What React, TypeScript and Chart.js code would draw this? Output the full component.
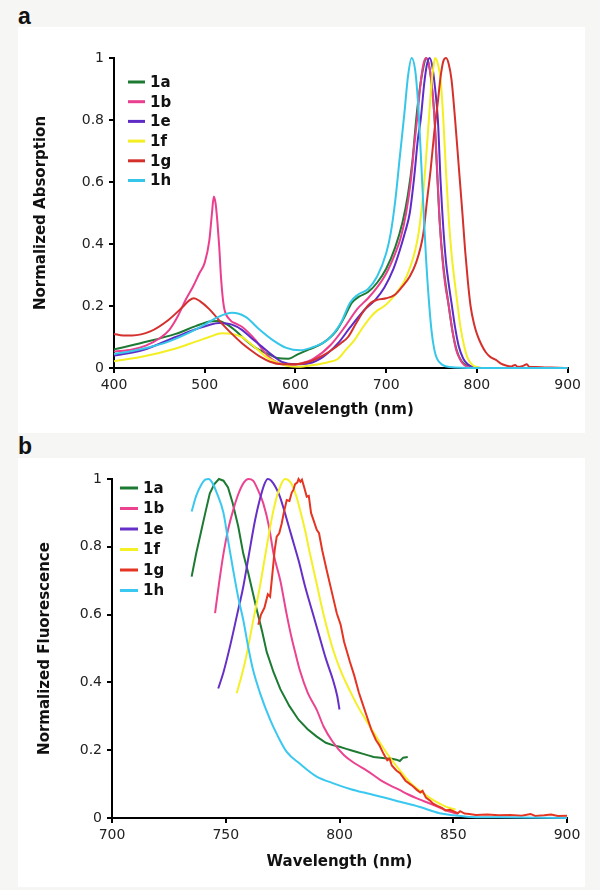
import React, { useEffect, useRef } from 'react';
import { Chart, registerables } from 'chart.js';

Chart.register(...registerables);

// ---------- series names & colours ----------
const seriesNames = ['1a', '1b', '1e', '1f', '1g', '1h'];
const absColors = ['#1d7a33', '#ea3f8e', '#5e2bc6', '#f3ef22', '#d4312d', '#36c6ea'];
const fluColors = ['#1d7a33', '#ec4391', '#6630c8', '#f4f026', '#e53522', '#3ac8f0'];

// ---------- tick settings ----------
const absXTicks = [400, 900, 100];
const fluXTicks = [700, 900, 50];
const yTicks = [0, 1, 0.2];

// ---------- panel a: normalized absorption ----------
const abs1aWl = [400, 432, 468, 490, 505, 515, 525, 535, 545, 556, 570, 580, 592, 603, 615, 630, 645, 655, 662, 670, 680, 690, 700, 710, 718, 724, 729, 733, 737, 741, 744, 747, 750, 753, 756, 759, 763, 768, 773, 778, 783, 790, 800, 900];
const abs1a = [0.06, 0.082, 0.11, 0.135, 0.15, 0.152, 0.14, 0.118, 0.09, 0.065, 0.045, 0.032, 0.03, 0.045, 0.06, 0.08, 0.12, 0.17, 0.21, 0.23, 0.245, 0.275, 0.32, 0.39, 0.47, 0.56, 0.67, 0.8, 0.9, 0.97, 1.0, 0.98, 0.92, 0.82, 0.64, 0.47, 0.33, 0.22, 0.12, 0.055, 0.022, 0.007, 0.0, 0.0];

const abs1bWl = [400, 420, 435, 450, 461, 470, 479, 487, 494, 500, 505, 508, 510, 512, 514, 516, 518, 521, 527, 535, 541, 548, 556, 563, 570, 580, 592, 605, 620, 639, 655, 668, 680, 690, 700, 710, 716, 722, 727, 731, 734, 738, 741, 744, 747, 750, 753, 756, 759, 762, 765, 769, 773, 777, 781, 786, 792, 800, 900];
const abs1b = [0.053, 0.06, 0.072, 0.095, 0.123, 0.165, 0.22, 0.262, 0.305, 0.34, 0.41, 0.5, 0.553, 0.53, 0.47, 0.39, 0.29, 0.2, 0.158, 0.142, 0.133, 0.115, 0.09, 0.062, 0.038, 0.018, 0.01, 0.014, 0.03, 0.075, 0.135, 0.19, 0.225, 0.26, 0.305, 0.37, 0.42, 0.5, 0.6, 0.72, 0.8, 0.92, 0.98, 1.0, 0.98, 0.92, 0.82, 0.65, 0.47, 0.35, 0.27, 0.2, 0.12, 0.06, 0.03, 0.01, 0.003, 0.0, 0.0];

const abs1eWl = [400, 432, 468, 490, 505, 516, 530, 541, 552, 563, 575, 585, 600, 615, 630, 647, 660, 676, 688, 698, 708, 715, 721, 726, 731, 735, 738, 742, 745, 748, 751, 754, 757, 760, 763, 766, 769, 772, 776, 780, 785, 790, 796, 805, 900];
const abs1e = [0.04, 0.058, 0.1, 0.125, 0.139, 0.145, 0.14, 0.123, 0.095, 0.069, 0.04, 0.02, 0.012, 0.015, 0.035, 0.08, 0.13, 0.187, 0.22, 0.26, 0.32, 0.38, 0.44, 0.5, 0.62, 0.74, 0.8, 0.92, 0.98, 1.0, 0.97, 0.9, 0.8, 0.6, 0.45, 0.34, 0.27, 0.21, 0.13, 0.07, 0.03, 0.012, 0.003, 0.0, 0.0];

const abs1fWl = [400, 432, 468, 490, 505, 519, 530, 541, 550, 559, 568, 578, 592, 603, 620, 635, 647, 656, 665, 674, 683, 690, 698, 705, 712, 720, 727, 732, 736, 740, 743, 747, 750, 752, 754, 757, 760, 763, 766, 769, 772, 775, 778, 782, 786, 790, 795, 802, 810, 900];
const abs1f = [0.022, 0.037, 0.063, 0.085, 0.1, 0.112, 0.11, 0.1, 0.08, 0.058, 0.035, 0.02, 0.006, 0.004, 0.01, 0.018, 0.03, 0.06, 0.09, 0.13, 0.165, 0.185, 0.2, 0.22, 0.245, 0.28, 0.33, 0.38, 0.44, 0.54, 0.64, 0.8, 0.92, 0.97, 1.0, 0.98, 0.93, 0.8, 0.63, 0.48, 0.37, 0.29, 0.22, 0.13, 0.07, 0.03, 0.01, 0.002, 0.0, 0.0];

const abs1gWl = [400, 410, 420, 440, 460, 475, 483, 488, 495, 505, 520, 530, 541, 552, 562, 572, 585, 600, 615, 630, 640, 650, 658, 667, 676, 683, 690, 700, 709, 717, 726, 733, 738, 741, 745, 749, 753, 757, 760, 763, 766, 769, 772, 776, 780, 784, 787, 790, 793, 797, 800, 805, 810, 815, 821, 826, 832, 838, 842, 845, 850, 855, 858, 865, 875, 890, 900];
const abs1g = [0.11, 0.105, 0.105, 0.118, 0.155, 0.195, 0.218, 0.225, 0.215, 0.19, 0.14, 0.11, 0.08, 0.055, 0.035, 0.02, 0.012, 0.012, 0.02, 0.04, 0.058, 0.08, 0.1, 0.145, 0.187, 0.21, 0.22, 0.225, 0.235, 0.26, 0.295, 0.34, 0.39, 0.435, 0.54, 0.64, 0.76, 0.86, 0.94, 0.99, 1.0, 0.98, 0.93, 0.8, 0.65, 0.5, 0.38, 0.28, 0.2, 0.14, 0.11, 0.075, 0.05, 0.035, 0.026, 0.015, 0.008, 0.005, 0.01, 0.004, 0.006, 0.012, 0.003, 0.003, 0.002, 0.001, 0.0];

const abs1hWl = [400, 420, 440, 460, 480, 500, 515, 530, 545, 560, 575, 590, 605, 620, 635, 650, 660, 668, 680, 690, 700, 705, 710, 715, 720, 724, 728, 732, 735, 738, 741, 744, 747, 750, 753, 756, 762, 770, 800, 900];
const abs1h = [0.045, 0.055, 0.068, 0.085, 0.11, 0.14, 0.165, 0.178, 0.165, 0.125, 0.09, 0.065, 0.057, 0.068, 0.09, 0.145, 0.21, 0.235, 0.255, 0.295, 0.37, 0.435, 0.54, 0.68, 0.82, 0.94, 1.0, 0.96, 0.86, 0.7, 0.52, 0.35, 0.22, 0.12, 0.06, 0.03, 0.01, 0.003, 0.0, 0.0];

// ---------- panel b: normalized fluorescence ----------
const flu1aWl = [735, 737, 739, 741, 743, 745, 747, 749, 751, 753, 755.5, 757.7, 760, 763.6, 766, 768, 771, 774, 778, 782, 786, 790, 794, 797, 800, 803, 805, 808, 810, 813, 815, 818, 820, 823, 825, 826.5, 828, 830];
const flu1a = [0.712, 0.78, 0.84, 0.9, 0.958, 0.985, 1.0, 0.995, 0.975, 0.93, 0.86, 0.78, 0.72, 0.615, 0.55, 0.49, 0.43, 0.38, 0.33, 0.29, 0.262, 0.24, 0.222, 0.215, 0.21, 0.204, 0.2, 0.194, 0.19, 0.184, 0.18, 0.178, 0.176, 0.175, 0.172, 0.168, 0.178, 0.18];

const flu1bWl = [745.3, 747, 749, 751, 753.3, 755.5, 758, 760, 762, 764, 766.5, 769, 771, 774, 776.8, 779, 781, 782.6, 786, 790, 793, 797, 802, 807, 812, 818, 822, 826.6, 830, 834, 840, 845, 848, 852];
const flu1b = [0.604, 0.69, 0.78, 0.85, 0.909, 0.955, 0.99, 1.0, 0.995, 0.97, 0.928, 0.86, 0.78, 0.7, 0.6, 0.53, 0.476, 0.435, 0.37, 0.319, 0.27, 0.225, 0.185, 0.16, 0.14, 0.112, 0.097, 0.082, 0.07, 0.058, 0.042, 0.028, 0.02, 0.012];

const flu1eWl = [746.7, 749, 752, 755, 757.7, 760, 762.9, 765, 767, 768.5, 770, 772, 773.8, 776, 779, 782, 785, 788, 791, 794, 797, 799, 800];
const flu1e = [0.382, 0.43, 0.51, 0.6, 0.682, 0.77, 0.879, 0.94, 0.985, 1.0, 0.995, 0.975, 0.948, 0.9, 0.83, 0.76, 0.68, 0.61, 0.54, 0.47, 0.41, 0.36, 0.32];

const flu1fWl = [754.8, 757, 759, 762, 765, 768, 771, 773.5, 776, 778.5, 781, 783, 785, 787, 790, 793, 797, 800.5, 804.6, 808, 812, 818, 822, 826.6, 831, 836.8, 842, 847, 851];
const flu1f = [0.368, 0.42, 0.476, 0.58, 0.682, 0.8, 0.909, 0.97, 1.0, 0.99, 0.95, 0.9, 0.845, 0.78, 0.69, 0.6, 0.5, 0.435, 0.375, 0.33, 0.285, 0.22, 0.18, 0.14, 0.105, 0.073, 0.05, 0.033, 0.025];

const flu1gWl = [764.3, 765.5, 767, 768.5, 769.5, 770.5, 771.5, 772.4, 773.5, 774.6, 775.5, 776.8, 778, 779, 779.7, 780.5, 781.5, 782, 782.8, 783.5, 784.5, 785.6, 786.5, 787.5, 788.5, 790, 791, 792.4, 794.4, 796.5, 798.8, 800.5, 802, 804.6, 806.5, 808.5, 810.5, 812, 814, 816, 817.5, 819.3, 821, 822, 823, 825, 826.6, 829, 831, 832, 834, 835.5, 836.5, 838, 840, 841, 843, 845, 846.5, 848.6, 850, 852, 853, 855, 857, 860, 865, 870, 875, 880, 884, 886, 890, 893, 896, 900];
const flu1g = [0.57, 0.6, 0.62, 0.66, 0.653, 0.72, 0.79, 0.83, 0.84, 0.869, 0.9, 0.938, 0.935, 0.96, 0.967, 0.985, 0.99, 1.0, 0.992, 0.998, 0.975, 0.948, 0.95, 0.9, 0.88, 0.85, 0.84, 0.79, 0.73, 0.67, 0.604, 0.57, 0.52, 0.46, 0.42, 0.37, 0.33, 0.3, 0.26, 0.23, 0.215, 0.19, 0.17, 0.175, 0.155, 0.14, 0.132, 0.11, 0.1, 0.095, 0.083, 0.075, 0.08, 0.06, 0.05, 0.043, 0.036, 0.03, 0.022, 0.024, 0.02, 0.014, 0.02, 0.013, 0.012, 0.009, 0.01, 0.008, 0.009, 0.007, 0.012, 0.006, 0.008, 0.01, 0.006, 0.007];

const flu1hWl = [735, 737, 739, 741, 742.5, 744, 746, 749, 751, 753.3, 755.5, 757.7, 760, 762, 765, 769.5, 773, 776.8, 782.6, 790, 797, 805, 812, 820, 826.6, 835, 844, 850, 856, 870, 900];
const flu1h = [0.904, 0.95, 0.98, 0.998, 1.0, 0.99, 0.96, 0.9, 0.82, 0.73, 0.65, 0.584, 0.5, 0.437, 0.37, 0.29, 0.24, 0.195, 0.16, 0.122, 0.103, 0.085, 0.073, 0.06, 0.048, 0.033, 0.014, 0.008, 0.004, 0.002, 0.0];

const absWl = [abs1aWl, abs1bWl, abs1eWl, abs1fWl, abs1gWl, abs1hWl];
const absVal = [abs1a, abs1b, abs1e, abs1f, abs1g, abs1h];
const fluWl = [flu1aWl, flu1bWl, flu1eWl, flu1fWl, flu1gWl, flu1hWl];
const fluVal = [flu1a, flu1b, flu1e, flu1f, flu1g, flu1h];

const TICK_FONT = { family: '"DejaVu Sans", Verdana, sans-serif', size: 14 };
const TITLE_FONT = { family: '"DejaVu Sans", Verdana, sans-serif', size: 15, weight: 'bold' as const };

type PanelProps = {
  width: number;
  height: number;
  area: { left: number; right: number; top: number; bottom: number };
  wls: number[][];
  vals: number[][];
  colors: string[];
  noisy: boolean[];
  xTicks: number[];
  yTitle: string;
  yTitlePad: number;
  xTitlePad: number;
  legend: { left: number; top: number; gap: number; len: number };
};

function Panel(p: PanelProps) {
  const ref = useRef<HTMLCanvasElement | null>(null);
  useEffect(() => {
    if (!ref.current) return;
    const datasets = seriesNames.map((name, i) => ({
      label: name,
      data: p.wls[i].map((x, j) => ({ x, y: p.vals[i][j] })),
      borderColor: p.colors[i],
      backgroundColor: p.colors[i],
      borderWidth: 2,
      pointRadius: 0,
      fill: false,
      clip: false as const,
      order: 6 - i,
      tension: p.noisy[i] ? 0 : 0.4,
      cubicInterpolationMode: p.noisy[i] ? ('default' as const) : ('monotone' as const),
    }));
    const lg = p.legend;
    const legendPlugin = {
      id: 'insetLegend',
      afterDatasetsDraw(chart: any) {
        const { ctx, chartArea } = chart;
        ctx.save();
        chart.data.datasets.forEach((ds: any, i: number) => {
          const y = chartArea.top + lg.top + i * lg.gap;
          const x = chartArea.left + lg.left;
          ctx.strokeStyle = ds.borderColor;
          ctx.lineWidth = 3;
          ctx.beginPath();
          ctx.moveTo(x, y);
          ctx.lineTo(x + lg.len, y);
          ctx.stroke();
          ctx.fillStyle = '#111';
          ctx.font = 'bold 15px "DejaVu Sans", Verdana, sans-serif';
          ctx.textBaseline = 'middle';
          ctx.textAlign = 'left';
          ctx.fillText(ds.label, x + lg.len + 5, y + 1);
        });
        ctx.restore();
      },
    };
    const H = p.height;
    const fmt = (v: any) => String(Number(Number(v).toFixed(1)));
    const chart = new Chart(ref.current, {
      type: 'line',
      data: { datasets },
      plugins: [legendPlugin],
      options: {
        responsive: false,
        animation: false,
        layout: { padding: { left: 0, top: p.area.top, right: p.width - p.area.right, bottom: 0 } },
        plugins: { legend: { display: false }, tooltip: { enabled: false } },
        scales: {
          x: {
            type: 'linear',
            min: p.xTicks[0],
            max: p.xTicks[1],
            afterFit: (s: any) => { s.height = H - p.area.bottom; },
            border: { display: true, color: '#000', width: 2 },
            grid: { drawOnChartArea: false, drawTicks: true, tickLength: 5, color: '#000', lineWidth: 2 },
            ticks: { stepSize: p.xTicks[2], autoSkip: false, maxRotation: 0, color: '#222', font: TICK_FONT, padding: 4 },
            title: { display: true, text: 'Wavelength (nm)', color: '#111', font: TITLE_FONT, padding: { top: 0, bottom: p.xTitlePad } },
          },
          y: {
            type: 'linear',
            min: yTicks[0],
            max: yTicks[1],
            afterFit: (s: any) => { s.width = p.area.left; },
            border: { display: true, color: '#000', width: 2 },
            grid: { drawOnChartArea: false, drawTicks: true, tickLength: 5, color: '#000', lineWidth: 2 },
            ticks: { stepSize: yTicks[2], autoSkip: false, color: '#222', font: TICK_FONT, padding: 5, callback: fmt },
            title: { display: true, text: p.yTitle, color: '#111', font: TITLE_FONT, padding: { top: p.yTitlePad, bottom: 0 } },
          },
        },
      } as any,
    });
    return () => chart.destroy();
  }, []);
  return <canvas ref={ref} width={p.width} height={p.height} style={{ width: p.width, height: p.height, display: 'block' }} />;
}

const labelStyle: React.CSSProperties = {
  position: 'absolute',
  left: 18,
  fontFamily: '"Liberation Sans", Arial, sans-serif',
  fontWeight: 'bold',
  fontSize: 23,
  lineHeight: '23px',
  color: '#111',
};

export default function App() {
  return (
    <div style={{ position: 'absolute', left: 0, top: 0, width: 600, height: 890, background: '#f6f6f4', overflow: 'hidden' }}>
      <div style={{ ...labelStyle, top: 5 }}>a</div>
      <div style={{ position: 'absolute', left: 18, top: 27, background: '#fff' }}>
        <Panel
          width={567}
          height={406}
          area={{ left: 96, right: 554, top: 31, bottom: 341 }}
          wls={absWl}
          vals={absVal}
          colors={absColors}
          noisy={[false, false, false, false, false, false]}
          xTicks={absXTicks}
          yTitle="Normalized Absorption"
          yTitlePad={14}
          xTitlePad={14}
          legend={{ left: 14, top: 24, gap: 19.7, len: 17 }}
        />
      </div>
      <div style={{ ...labelStyle, top: 435 }}>b</div>
      <div style={{ position: 'absolute', left: 18, top: 458, background: '#fff' }}>
        <Panel
          width={567}
          height={429}
          area={{ left: 94, right: 549, top: 21, bottom: 360 }}
          wls={fluWl}
          vals={fluVal}
          colors={fluColors}
          noisy={[true, false, false, false, true, false]}
          xTicks={fluXTicks}
          yTitle="Normalized Fluorescence"
          yTitlePad={18}
          xTitlePad={16}
          legend={{ left: 8, top: 9, gap: 20.5, len: 18 }}
        />
      </div>
    </div>
  );
}
